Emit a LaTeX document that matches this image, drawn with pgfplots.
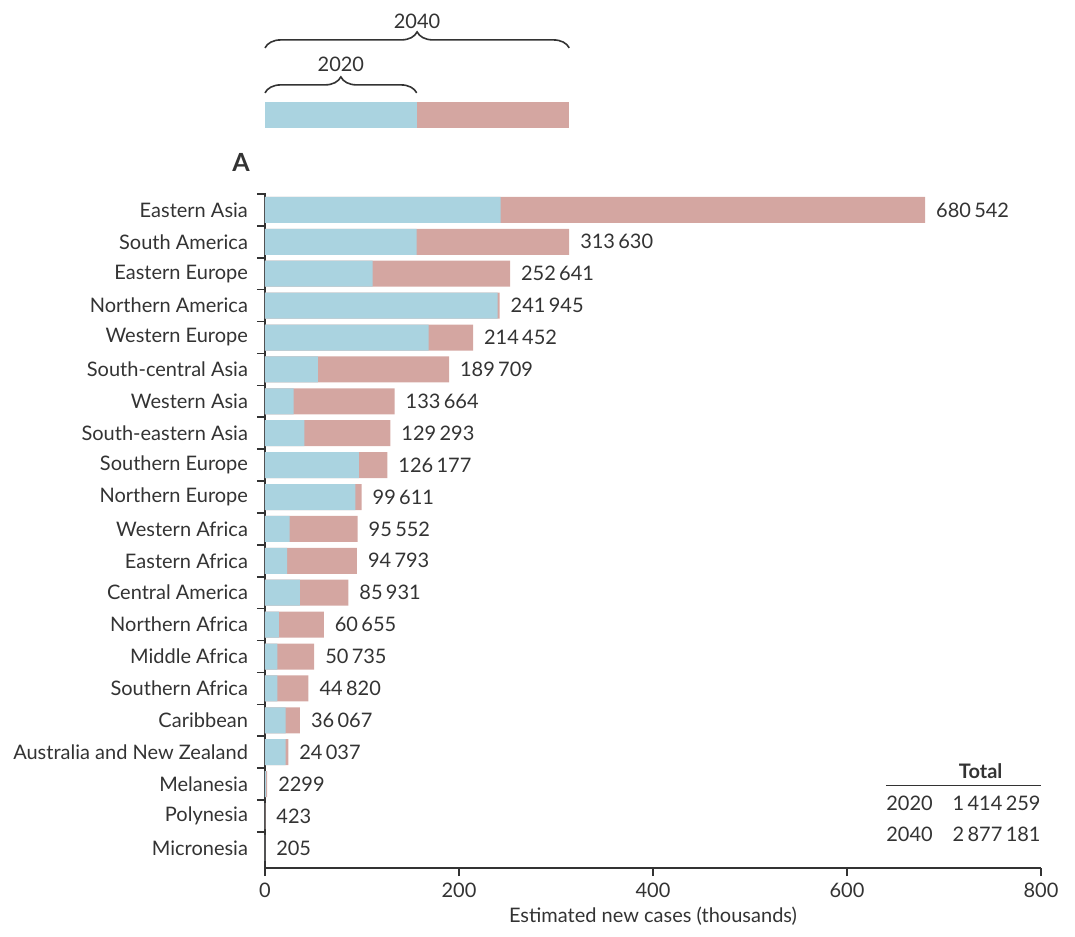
\documentclass[border=0pt]{standalone}
\usepackage{fontspec}
\setmainfont{Lato}
\usepackage{pgfplots}
\pgfplotsset{compat=1.18}
\usepackage{pgfplotstable}
\usetikzlibrary{decorations.pathreplacing}
\definecolor{cblue}{HTML}{AAD3E0}
\definecolor{cpink}{HTML}{D4A6A1}
\definecolor{ctext}{HTML}{333333}

\pgfplotstableread{
idx v2020 v2040 lab
0 243.0 680.542 680\,542
1 156.4 313.630 313\,630
2 111.0 252.641 252\,641
3 239.9 241.945 241\,945
4 168.7 214.452 214\,452
5 54.6 189.709 189\,709
6 29.6 133.664 133\,664
7 40.5 129.293 129\,293
8 96.9 126.177 126\,177
9 93.1 99.611 99\,611
10 25.4 95.552 95\,552
11 22.7 94.793 94\,793
12 36.0 85.931 85\,931
13 14.4 60.655 60\,655
14 12.7 50.735 50\,735
15 12.7 44.820 44\,820
16 21.3 36.067 36\,067
17 21.3 24.037 24\,037
18 1.2 2.299 2299
19 0.25 0.423 423
20 0.12 0.205 205
}\data

\begin{document}
\begin{tikzpicture}[font=\fontsize{10}{12}\selectfont, color=ctext]
\path[use as bounding box] (-132.5pt,-34pt) rectangle (405pt,434pt);
\begin{axis}[
  name=main, at={(0,0)}, anchor=south west,
  scale only axis, width=388pt, height=337.5pt,
  xmin=0, xmax=800, ymin=-0.53, ymax=20.63, y dir=reverse,
  axis x line=bottom, axis y line=left,
  axis line style={-, line width=0.8pt, color=ctext},
  xtick={0,200,...,800}, tick align=outside, major tick length=4pt, minor tick length=4pt,
  tick style={line width=0.8pt, color=ctext},
  ytick={0,...,20},
  major y tick style={draw=none},
  minor ytick={-0.5,0.5,...,19.5},
  yticklabels={Eastern Asia,South America,Eastern Europe,Northern America,Western Europe,South-central Asia,Western Asia,South-eastern Asia,Southern Europe,Northern Europe,Western Africa,Eastern Africa,Central America,Northern Africa,Middle Africa,Southern Africa,Caribbean,Australia and New Zealand,Melanesia,Polynesia,Micronesia},
  yticklabel style={color=ctext, xshift=-1pt},
  xticklabel style={color=ctext},
  /pgf/number format/assume math mode=true,
  xlabel={Estimated new cases (thousands)},
  xlabel style={color=ctext, yshift=2pt},
  clip=false,
]
\addplot[xbar, bar width=13pt, bar shift=0pt, fill=cpink, draw=none,
  nodes near coords, point meta=explicit symbolic,
  every node near coord/.append style={anchor=west, color=ctext, xshift=2pt}]
  table[x=v2040, y=idx, meta=lab]{\data};
\addplot[xbar, bar width=13pt, bar shift=0pt, fill=cblue, draw=none]
  table[x=v2020, y=idx]{\data};
\node[font=\fontsize{12.5}{14}\selectfont\bfseries] at (axis cs:-24.7,-1.5) {A};
\node[font=\bfseries] at (axis cs:737.8,17.58) {Total};
\draw[line width=0.8pt] (axis cs:640.2,18.04) -- (axis cs:800,18.04);
\node[anchor=west, inner sep=0pt] at (axis cs:640.2,18.6) {2020};
\node[anchor=east, inner sep=0pt] at (axis cs:800,18.6) {1\,414\,259};
\node[anchor=west, inner sep=0pt] at (axis cs:640.2,19.56) {2040};
\node[anchor=east, inner sep=0pt] at (axis cs:800,19.56) {2\,877\,181};
\end{axis}
\begin{axis}[
  at={(0,370pt)}, anchor=south west,
  scale only axis, width=388pt, height=13pt,
  xmin=0, xmax=800, ymin=0, ymax=1, hide axis, clip=false,
]
\addplot[xbar, bar width=13pt, bar shift=0pt, fill=cpink, draw=none] coordinates {(313.630,0.5)};
\addplot[xbar, bar width=13pt, bar shift=0pt, fill=cblue, draw=none] coordinates {(156.4,0.5)};
\draw[decorate, decoration={brace, amplitude=8pt}, line width=0.8pt] (axis cs:0,1.35) -- (axis cs:156.4,1.35);
\draw[decorate, decoration={brace, amplitude=8pt}, line width=0.8pt] (axis cs:0,3.08) -- (axis cs:313.63,3.08);
\node at (axis cs:78.2,2.46) {2020};
\node at (axis cs:156.8,4.12) {2040};
\end{axis}
\end{tikzpicture}
\end{document}
